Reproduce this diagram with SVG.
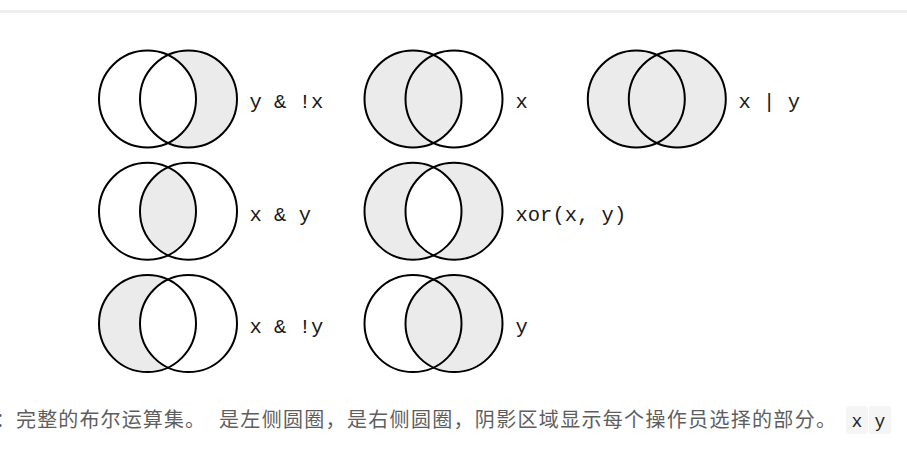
<svg xmlns="http://www.w3.org/2000/svg" xmlns:xlink="http://www.w3.org/1999/xlink" width="907" height="451" viewBox="0 0 907 451">
<style>
.sh{fill:#ebebeb;stroke:none}
.ci{fill:none;stroke:#000;stroke-width:2}
.lb{font-family:"Liberation Mono","DejaVu Sans Mono",monospace;font-size:20.5px;fill:#1a1a1a}
.cap{font-family:"Noto Sans CJK SC","Noto Sans",sans-serif;font-size:20px;fill:#5e5e5e}
.code{font-family:"Liberation Mono","DejaVu Sans Mono",monospace;font-size:18px;fill:#222}
.cbox{fill:#f5f5f5}
</style>
<defs>
<g id="outline">
<circle class="ci" cx="0" cy="0" r="48.5"/>
<circle class="ci" cx="41" cy="0" r="48.5"/>
</g>
<circle id="leftFull" class="sh" cx="0" cy="0" r="48.5"/>
<circle id="rightFull" class="sh" cx="41" cy="0" r="48.5"/>
<path id="lens" class="sh" d="M20.5,-43.95 A48.5,48.5 0 0 1 20.5,43.95 A48.5,48.5 0 0 1 20.5,-43.95 Z"/>
<path id="leftOnly" class="sh" d="M20.5,-43.95 A48.5,48.5 0 1 0 20.5,43.95 A48.5,48.5 0 0 1 20.5,-43.95 Z"/>
<path id="rightOnly" class="sh" d="M20.5,-43.95 A48.5,48.5 0 1 1 20.5,43.95 A48.5,48.5 0 0 0 20.5,-43.95 Z"/>
</defs>
<rect x="0" y="10" width="907" height="3" fill="#eeeeee"/>
<g id="venn-y-and-not-x" transform="translate(147.5,99)">
<use xlink:href="#rightOnly"/>
<use xlink:href="#outline"/>
</g>
<text class="lb" x="249.5" y="108">y &amp; !x</text>
<g id="venn-x" transform="translate(413,99)">
<use xlink:href="#leftFull"/>
<use xlink:href="#outline"/>
</g>
<text class="lb" x="515.5" y="108">x</text>
<g id="venn-x-or-y" transform="translate(636.3,99)">
<use xlink:href="#leftFull"/>
<use xlink:href="#rightFull"/>
<use xlink:href="#outline"/>
</g>
<text class="lb" x="738.5" y="108">x | y</text>
<g id="venn-x-and-y" transform="translate(147.5,211.3)">
<use xlink:href="#lens"/>
<use xlink:href="#outline"/>
</g>
<text class="lb" x="249.5" y="220.5">x &amp; y</text>
<g id="venn-xor" transform="translate(413,211.3)">
<use xlink:href="#leftOnly"/>
<use xlink:href="#rightOnly"/>
<use xlink:href="#outline"/>
</g>
<text class="lb" x="515.5" y="220.5">xor(x, y)</text>
<g id="venn-x-and-not-y" transform="translate(147.5,323.6)">
<use xlink:href="#leftOnly"/>
<use xlink:href="#outline"/>
</g>
<text class="lb" x="249.5" y="333">x &amp; !y</text>
<g id="venn-y" transform="translate(413,323.6)">
<use xlink:href="#rightFull"/>
<use xlink:href="#outline"/>
</g>
<text class="lb" x="515.5" y="333">y</text>
<g id="connectors"/>
<g id="caption">
<text class="cap" x="-5" y="427" textLength="210" lengthAdjust="spacing">：完整的布尔运算集。</text>
<text class="cap" x="219" y="427" textLength="617" lengthAdjust="spacing">是左侧圆圈，是右侧圆圈，阴影区域显示每个操作员选择的部分。</text>
<rect class="cbox" x="846" y="406" width="22" height="28" rx="3"/>
<rect class="cbox" x="869" y="406" width="22" height="28" rx="3"/>
<text class="code" x="857" y="427" text-anchor="middle">x</text>
<text class="code" x="880" y="427" text-anchor="middle">y</text>
</g>
</svg>
